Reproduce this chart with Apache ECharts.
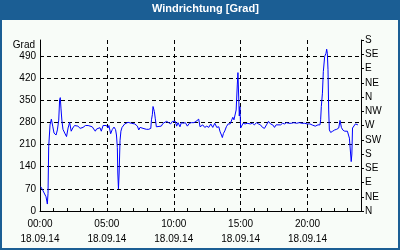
<!DOCTYPE html>
<html>
<head>
<meta charset="utf-8">
<script src="https://cdn.jsdelivr.net/npm/echarts@6/dist/echarts.min.js"></script>
<style>
html,body{margin:0;padding:0;background:#1b5e94;}
#c{width:400px;height:250px;}
</style>
</head>
<body>
<div id="c"></div>
<script>
// Minutes after 00:00 on 18.09.14
var minutes = [3,12,18,27,33,36,39,45,51,57,63,72,78,84,88,91,94,98,103,111,119,126,133,140,147,155,162,170,180,193,204,216,223,234,248,254,260,269,275,283,290,298,305,309,317,324,332,339,343,347,349,352,355,359,363,368,380,395,410,425,437,443,449,455,462,470,477,488,497,500,504,507,510,513,517,522,529,544,552,559,568,577,586,594,601,607,613,619,628,634,643,652,661,670,679,691,700,706,712,718,730,739,748,757,766,775,784,793,802,808,814,818,823,829,836,844,853,859,865,870,873,877,880,882,885,888,891,894,897,900,902,911,920,929,935,944,953,962,971,980,989,998,1007,1016,1025,1034,1044,1052,1059,1067,1079,1088,1097,1106,1115,1127,1139,1151,1163,1175,1187,1199,1211,1223,1235,1247,1256,1259,1262,1267,1271,1277,1283,1286,1289,1292,1295,1298,1304,1313,1322,1331,1340,1346,1352,1358,1367,1379,1385,1388,1392,1396,1399,1402,1408,1415,1421,1426];
// Wind direction in degrees
var direction = [77,66,60,45,22,56,203,272,290,268,246,240,256,287,351,358,325,287,258,246,235,262,280,252,262,270,275,268,261,264,270,270,270,266,252,259,255,263,252,270,272,270,262,270,244,257,265,257,240,200,120,70,120,222,252,264,275,280,277,275,268,256,264,264,261,262,258,258,261,288,304,330,322,314,293,266,268,268,277,272,283,279,275,283,277,283,268,279,266,279,277,279,268,277,279,279,283,279,290,266,272,264,268,264,275,264,277,264,266,250,240,232,245,253,266,275,275,272,296,288,284,290,319,319,398,437,435,300,330,262,266,277,275,277,283,275,277,272,279,275,272,264,261,272,283,275,272,264,272,277,272,277,275,279,277,277,279,277,279,277,277,275,275,271,268,272,272,288,330,372,440,488,498,511,498,446,319,256,248,252,256,258,262,286,264,256,252,252,250,230,225,156,180,262,262,275,275,272];
var leftTicks = [0,70,140,210,280,350,420,490];
var compass = ['N','NE','E','SE','S','SW','W','NW','N','NE','E','SE','S'];
var dateLabel = '18.09.14';
var titleText = 'Windrichtung [Grad]';
var unitLabel = 'Grad';

var seriesData = minutes.map(function(m, i){ return [m, direction[i]]; });
function pad(n){ return (n < 10 ? '0' : '') + n; }

var font = 'Liberation Sans';
var chart = echarts.init(document.getElementById('c'), null, {renderer:'canvas'});
chart.setOption({
  animation: false,
  backgroundColor: '#1b5e94',
  graphic: [{
    type: 'rect', z: -10, silent: true,
    shape: {x: 2, y: 20, width: 396, height: 228},
    style: {fill: '#f8fcf8'}
  }],
  title: {
    text: titleText, left: 152, top: 3, padding: 0,
    textStyle: {color: '#ffffff', fontFamily: font, fontSize: 11, fontWeight: 'bold'}
  },
  grid: {left: 40, right: 39, top: 40, bottom: 39, containLabel: false},
  xAxis: {
    type: 'value', min: 0, max: 1440, interval: 300,
    axisLine: {show: true, lineStyle: {color: '#000', width: 1}},
    axisTick: {show: true, inside: true, length: 3, lineStyle: {color: '#000'}},
    minorTick: {show: true, splitNumber: 5, length: 3, lineStyle: {color: '#000'}},
    splitLine: {show: true, showMinLine: false, showMaxLine: false, lineStyle: {color: '#000', type: [4,3], width: 1}},
    minorSplitLine: {show: false},
    axisLabel: {
      showMaxLabel: false, margin: 6, color: '#000', fontFamily: font, fontSize: 10, lineHeight: 15,
      formatter: function(v){ return pad(Math.floor(v/60)) + ':' + pad(v%60) + '\n' + dateLabel; }
    }
  },
  yAxis: [{
    type: 'value', min: 0, max: 540, interval: 70, position: 'left',
    name: unitLabel, nameLocation: 'end', nameGap: -10,
    nameTextStyle: {color: '#000', fontFamily: font, fontSize: 10, align: 'right', padding: [0, 5, 0, 0]},
    axisLine: {show: true, lineStyle: {color: '#000', width: 1}},
    axisTick: {show: false},
    splitLine: {show: true, showMinLine: false, showMaxLine: false, lineStyle: {color: '#000', type: [4,3], width: 1}},
    axisLabel: {
      margin: 4, color: '#000', fontFamily: font, fontSize: 10, showMaxLabel: false,
      formatter: function(v){ return leftTicks.indexOf(v) >= 0 ? String(v) : ''; }
    }
  }, {
    type: 'value', min: 0, max: 540, interval: 45, position: 'right',
    axisLine: {show: true, lineStyle: {color: '#000', width: 1}},
    axisTick: {show: true, inside: false, length: 3, lineStyle: {color: '#000'}},
    splitLine: {show: false},
    axisLabel: {
      margin: 4, color: '#000', fontFamily: font, fontSize: 10,
      formatter: function(v){ return compass[Math.round(v/45)] || ''; }
    }
  }],
  series: [{
    type: 'line', yAxisIndex: 0, data: seriesData,
    showSymbol: false, symbol: 'none',
    lineStyle: {color: '#0000ff', width: 1}
  }]
});
</script>
</body>
</html>
